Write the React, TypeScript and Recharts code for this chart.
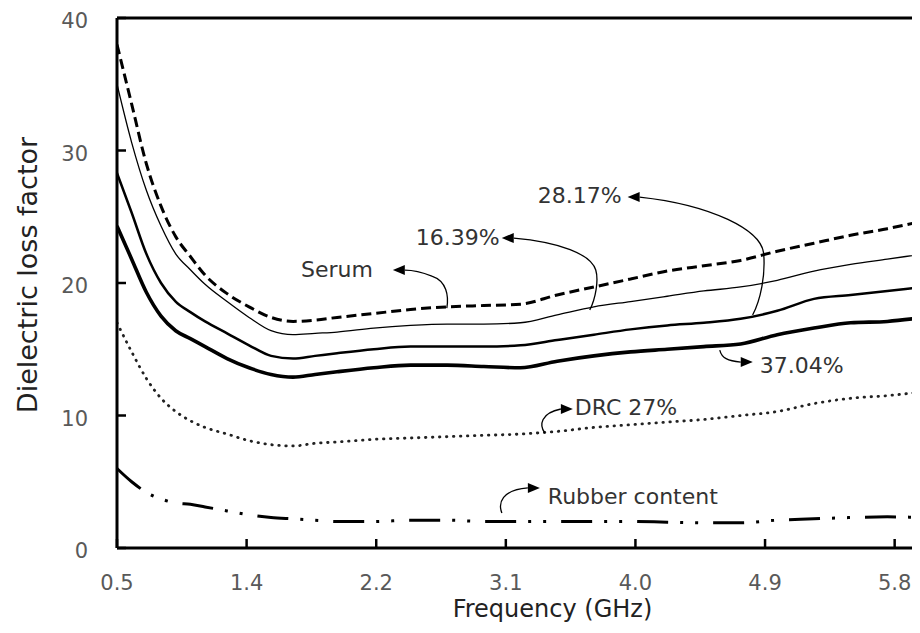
import React from 'react';
import { LineChart, Line, XAxis, YAxis, ReferenceLine, ReferenceDot } from 'recharts';

const FONT = '"DejaVu Sans", sans-serif';

const frequencies = [0.5, 0.6, 0.7, 0.8, 0.9, 1.0, 1.1, 1.25, 1.4, 1.55, 1.7, 1.85, 2.0, 2.25, 2.5, 2.75, 3.0, 3.25, 3.5, 3.75, 4.0, 4.25, 4.5, 4.75, 5.0, 5.25, 5.5, 5.75, 6.0];
const serum = [38.0, 33.5, 29.0, 25.8, 23.5, 22.0, 20.6, 19.2, 18.2, 17.4, 17.1, 17.2, 17.4, 17.7, 18.0, 18.2, 18.3, 18.4, 19.1, 19.7, 20.3, 20.9, 21.3, 21.7, 22.4, 23.0, 23.6, 24.1, 24.7];
const drc1639 = [35.0, 30.6, 27.0, 24.3, 22.2, 21.0, 19.9, 18.6, 17.4, 16.4, 16.1, 16.2, 16.3, 16.6, 16.8, 16.9, 16.9, 17.0, 17.6, 18.2, 18.6, 19.0, 19.4, 19.7, 20.2, 20.9, 21.4, 21.8, 22.2];
const drc2817 = [28.3, 25.3, 22.2, 20.0, 18.6, 17.8, 17.1, 16.2, 15.3, 14.5, 14.3, 14.5, 14.7, 15.0, 15.2, 15.2, 15.2, 15.3, 15.7, 16.1, 16.5, 16.8, 17.0, 17.3, 17.9, 18.8, 19.1, 19.4, 19.7];
const drc3704 = [24.3, 21.8, 19.3, 17.5, 16.4, 15.8, 15.2, 14.3, 13.6, 13.1, 12.9, 13.1, 13.3, 13.6, 13.8, 13.8, 13.7, 13.6, 14.1, 14.5, 14.8, 15.0, 15.2, 15.4, 16.1, 16.6, 17.0, 17.1, 17.4];
const drc27 = [17.0, 14.8, 12.8, 11.3, 10.3, 9.6, 9.1, 8.6, 8.1, 7.8, 7.7, 7.9, 8.0, 8.2, 8.3, 8.4, 8.5, 8.6, 8.8, 9.1, 9.3, 9.5, 9.7, 10.0, 10.3, 10.9, 11.3, 11.5, 11.8];
const rubber = [6.0, 5.0, 4.2, 3.7, 3.4, 3.3, 3.1, 2.8, 2.5, 2.3, 2.2, 2.1, 2.0, 2.0, 2.1, 2.1, 2.0, 2.0, 2.0, 2.0, 2.0, 1.95, 1.9, 1.9, 2.1, 2.2, 2.3, 2.35, 2.3];

const xTickValues = [0.5, 1.3833, 2.2667, 3.15, 4.0333, 4.9167, 5.8];
const xTickLabels = ['0.5', '1.4', '2.2', '3.1', '4.0', '4.9', '5.8'];
const yTicks = [0, 10, 20, 30, 40];

// annotation anchors (data coordinates) and texts
const annTexts = ['Serum', '16.39%', '28.17%', '37.04%', 'DRC 27%', 'Rubber content'];
const annX = [2.748, 3.722, 4.832, 4.608, 3.416, 3.123];
const annY = [18.11, 17.96, 17.58, 15.09, 8.68, 2.04];

const data = frequencies.map((f, i) => ({
  f,
  serum: serum[i],
  d1639: drc1639[i],
  d2817: drc2817[i],
  d3704: drc3704[i],
  d27: drc27[i],
  rubber: rubber[i],
}));

type Shape = { path: string; tip: [number, number]; dir: 1 | -1; tx: number; ty: number; anchor: 'start' | 'end' };
const annShapes: Shape[] = [
  { path: 'M0,0 C2,-12 0,-27 -15,-32 C-25,-36 -33,-38 -42,-38', tip: [-54, -38], dir: -1, tx: -74, ty: -39, anchor: 'end' },
  { path: 'M0,0 C6,-12 9,-30 6,-40 C1,-56 -30,-68 -76,-72', tip: [-88, -72], dir: -1, tx: -90, ty: -73, anchor: 'end' },
  { path: 'M0,0 C8,-15 13,-40 11,-62 C8,-85 -40,-110 -113,-118', tip: [-125, -118], dir: -1, tx: -131, ty: -120, anchor: 'end' },
  { path: 'M0,2 C2,10 8,13 21,14', tip: [33, 14], dir: 1, tx: 40, ty: 17, anchor: 'start' },
  { path: 'M0,0 C-6,-8 -4,-20 16,-24', tip: [28, -24], dir: 1, tx: 30, ty: -25, anchor: 'start' },
  { path: 'M0,-8 C-4,-18 0,-31 26,-33', tip: [38, -33], dir: 1, tx: 46, ty: -24, anchor: 'start' },
];

const makeAnnotation = (idx: number) => (props: any) => {
  const { cx, cy } = props;
  const s = annShapes[idx];
  const [tx, ty] = s.tip;
  const bx = tx - s.dir * 12;
  return (
    <g transform={`translate(${cx},${cy})`}>
      <path d={s.path} fill="none" stroke="#000" strokeWidth={1.3} />
      <polygon points={`${tx},${ty} ${bx},${ty - 5} ${bx},${ty + 5}`} fill="#000" />
      <text x={s.tx} y={s.ty} textAnchor={s.anchor} dominantBaseline="central" fontFamily={FONT} fontSize={22} fill="#333">
        {annTexts[idx]}
      </text>
    </g>
  );
};

const X_MARGIN = 26;
const XTick = (props: any) => {
  const { x, y, payload } = props;
  const axisY = y - X_MARGIN;
  const idx = xTickValues.indexOf(payload.value);
  return (
    <g>
      <line x1={x} x2={x} y1={axisY} y2={axisY - 9} stroke="#000" strokeWidth={2.5} />
      <text x={x} y={axisY + 35} textAnchor="middle" dominantBaseline="central" fontFamily={FONT} fontSize={21} fill="#595959">
        {idx >= 0 ? xTickLabels[idx] : payload.value}
      </text>
    </g>
  );
};

const Y_MARGIN = 29;
const YTick = (props: any) => {
  const { x, y, payload } = props;
  const axisX = x + Y_MARGIN;
  return (
    <g>
      <line x1={axisX} x2={axisX + 9} y1={y} y2={y} stroke="#000" strokeWidth={2.5} />
      <text x={axisX - 29} y={y + 3} textAnchor="end" dominantBaseline="central" fontFamily={FONT} fontSize={21} fill="#595959">
        {payload.value}
      </text>
    </g>
  );
};

const YTitle = (props: any) => {
  const vb = props.viewBox;
  const cx = vb.x + 19;
  const cy = vb.y + vb.height / 2 - 8;
  return (
    <text x={cx} y={cy} transform={`rotate(-90, ${cx}, ${cy})`} textAnchor="middle" dominantBaseline="central" fontFamily={FONT} fontSize={27} fill="#222">
      Dielectric loss factor
    </text>
  );
};

const XTitle = (props: any) => {
  const vb = props.viewBox;
  const cx = vb.x + vb.width / 2 + 32;
  const cy = vb.y + 61;
  return (
    <text x={cx} y={cy} textAnchor="middle" dominantBaseline="central" fontFamily={FONT} fontSize={24} fill="#222">
      Frequency (GHz)
    </text>
  );
};

export default function App() {
  return (
    <div style={{ width: 912, height: 625, overflow: 'hidden', fontFamily: FONT }}>
      <LineChart width={916} height={625} data={data} margin={{ top: 10, right: 0, bottom: 5, left: 0 }}>
        <XAxis
          type="number"
          dataKey="f"
          domain={[0.5, 6.0]}
          allowDataOverflow
          ticks={xTickValues}
          interval={0}
          tickSize={0}
          tickMargin={X_MARGIN}
          height={80}
          axisLine={{ stroke: '#000', strokeWidth: 3 }}
          tickLine={false}
          tick={<XTick />}
          label={<XTitle />}
        />
        <YAxis
          type="number"
          domain={[0, 40]}
          ticks={yTicks}
          interval={0}
          width={109}
          tickSize={0}
          tickMargin={Y_MARGIN}
          axisLine={{ stroke: '#000', strokeWidth: 3 }}
          tickLine={false}
          tick={<YTick />}
          label={<YTitle />}
        />
        <ReferenceLine y={40} stroke="#000" strokeWidth={3} />
        <Line type="monotone" dataKey="rubber" stroke="#000" strokeWidth={3} strokeDasharray="31 12 3 12 3 15" dot={false} isAnimationActive={false} />
        <Line type="monotone" dataKey="d27" stroke="#222" strokeWidth={2.8} strokeDasharray="0.5 6.5" strokeLinecap="round" dot={false} isAnimationActive={false} />
        <Line type="monotone" dataKey="d3704" stroke="#000" strokeWidth={3.6} dot={false} isAnimationActive={false} />
        <Line type="monotone" dataKey="d2817" stroke="#000" strokeWidth={2.5} dot={false} isAnimationActive={false} />
        <Line type="monotone" dataKey="d1639" stroke="#000" strokeWidth={1.3} dot={false} isAnimationActive={false} />
        <Line type="monotone" dataKey="serum" stroke="#000" strokeWidth={3} strokeDasharray="10 5" dot={false} isAnimationActive={false} />
        {annTexts.map((t, i) => (
          <ReferenceDot key={t} x={annX[i]} y={annY[i]} r={0} shape={makeAnnotation(i)} />
        ))}
      </LineChart>
    </div>
  );
}
